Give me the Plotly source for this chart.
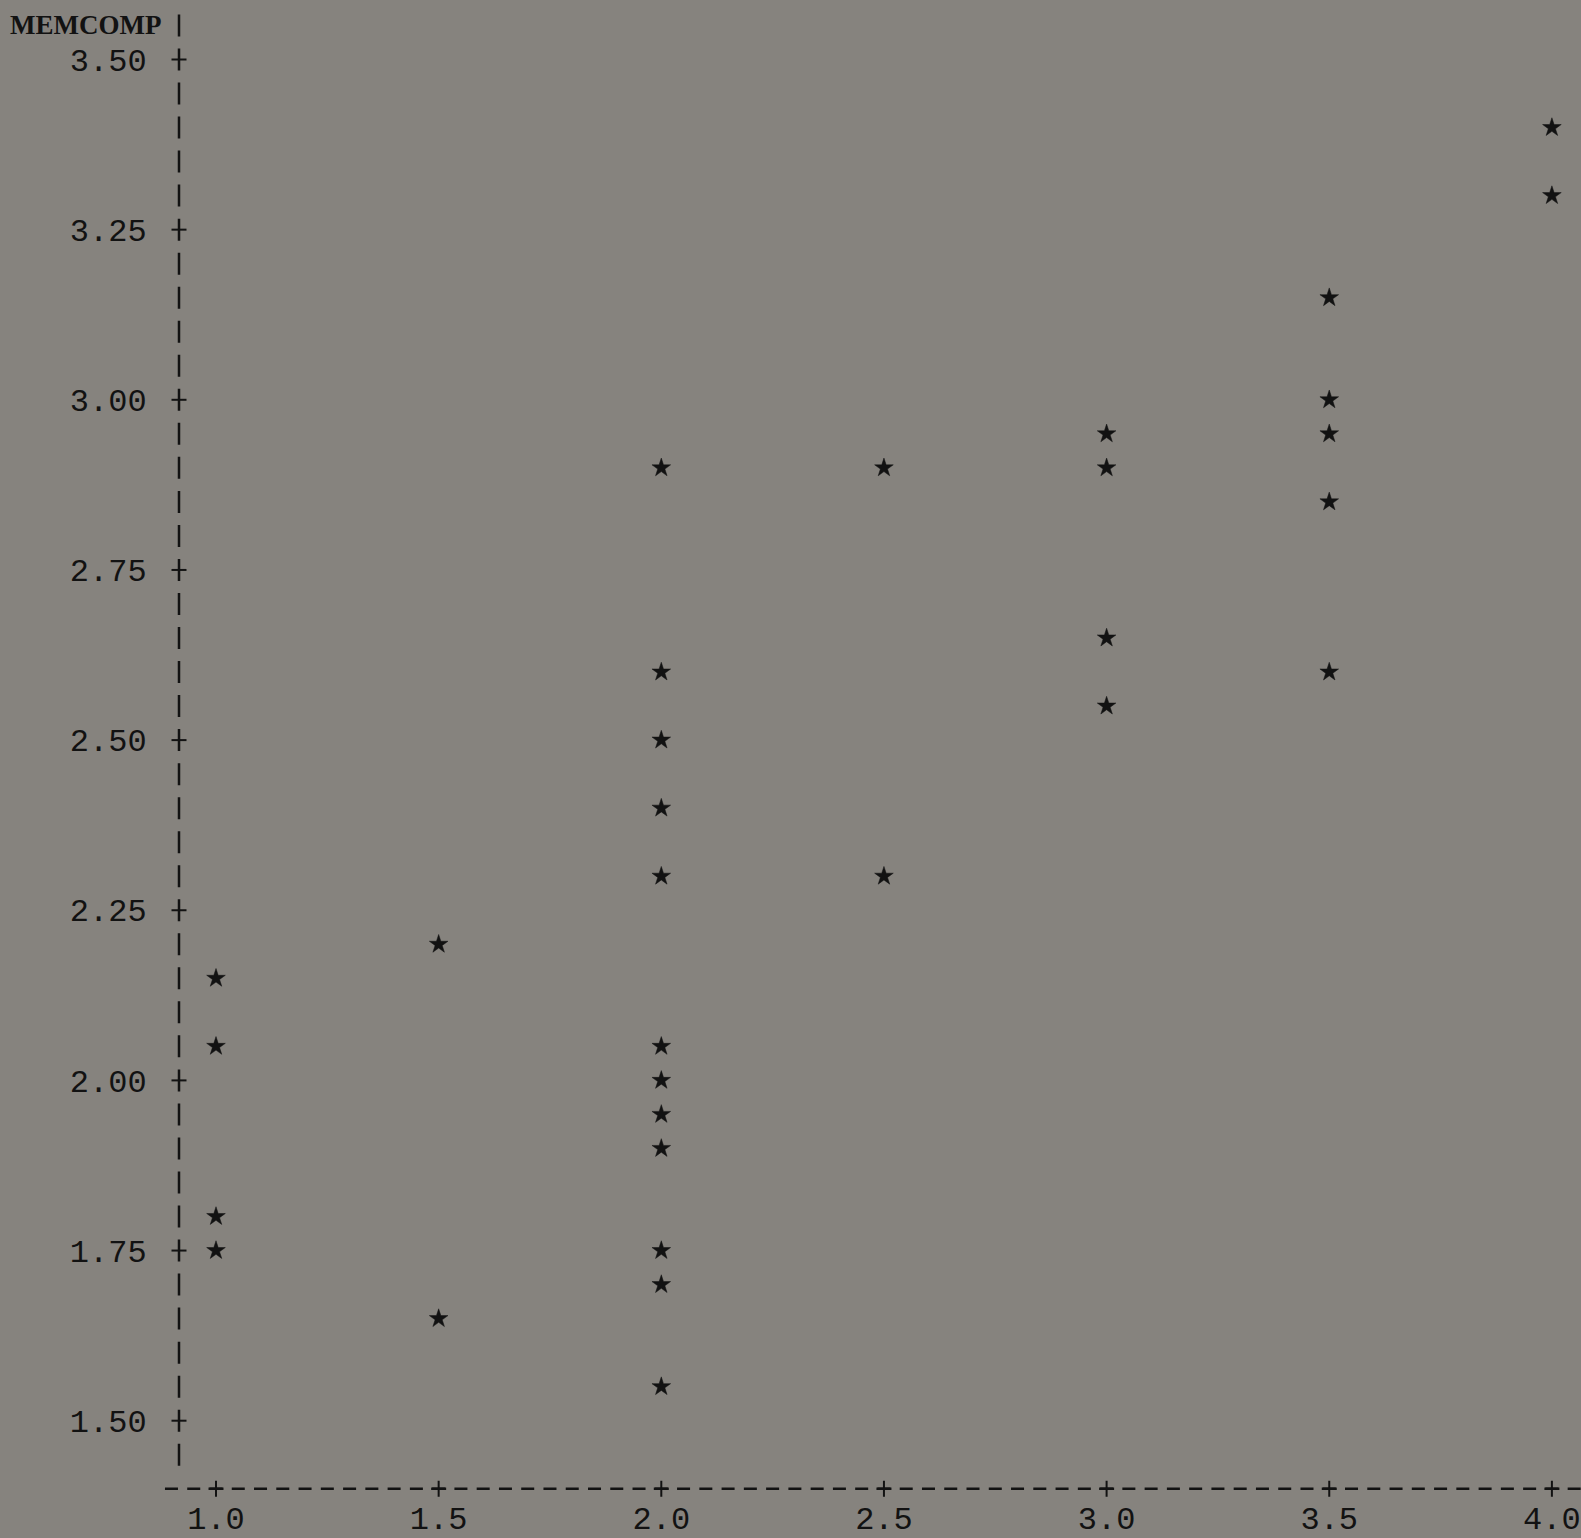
import plotly.graph_objects as go

# ---- data ----
x_vals = [1.0, 1.0, 1.0, 1.0,
          1.5, 1.5,
          2.0, 2.0, 2.0, 2.0, 2.0, 2.0, 2.0, 2.0, 2.0, 2.0, 2.0, 2.0,
          2.5, 2.5,
          3.0, 3.0, 3.0, 3.0,
          3.5, 3.5, 3.5, 3.5, 3.5,
          4.0, 4.0]
y_vals = [2.15, 2.05, 1.80, 1.75,
          2.20, 1.65,
          2.90, 2.60, 2.50, 2.40, 2.30, 2.05, 2.00, 1.95, 1.90, 1.75, 1.70, 1.55,
          2.90, 2.30,
          2.95, 2.90, 2.65, 2.55,
          3.15, 3.00, 2.95, 2.85, 2.60,
          3.40, 3.30]

x_ticks = [1.0, 1.5, 2.0, 2.5, 3.0, 3.5, 4.0]
x_tick_labels = ["1.0", "1.5", "2.0", "2.5", "3.0", "3.5", "4.0"]
y_ticks = [1.50, 1.75, 2.00, 2.25, 2.50, 2.75, 3.00, 3.25, 3.50]
y_tick_labels = ["1.50", "1.75", "2.00", "2.25", "2.50", "2.75", "3.00", "3.25", "3.50"]
y_label = "MEMCOMP"

# ---- layout geometry ----
W, H = 1581, 1538
ML, MB = 155, 40
PXX = 445.3      # pixels per x unit
PXY = 680.6      # pixels per y unit
X0PX = 216       # pixel column of x = 1.0
x_range = [1.0 - (X0PX - ML) / PXX, 1.0 + (W - X0PX) / PXX]
y_range = [3.50 - (H - MB - 59.5) / PXY, 3.50 + 59.5 / PXY]

BG = "#86837e"
INK = "#121212"
MONO = "Liberation Mono, DejaVu Sans Mono, monospace"

axis_x = 1.0 - (X0PX - 179) / PXX      # column of the vertical text axis
axis_y = 1.40                           # row of the horizontal text axis

fig = go.Figure()
fig.add_trace(go.Scatter(
    x=x_vals, y=y_vals, mode="markers",
    marker=dict(symbol="star", size=14, color=INK, line=dict(width=0.5, color=INK)),
    hoverinfo="x+y", showlegend=False,
))

shapes = []
# vertical axis drawn as a column of '|' characters (one per 0.05 row)
hb = 11 / PXY
shapes.append(dict(type="line", xref="x", yref="y",
                   x0=axis_x, x1=axis_x, y0=3.55 + hb, y1=1.45 - hb,
                   line=dict(color=INK, width=2.5, dash="22px,12.03px")))
# horizontal axis drawn as a row of '-' characters (one per 0.05 column)
hd = 6.5 / PXX
shapes.append(dict(type="line", xref="x", yref="y",
                   x0=x_ticks[0] - 0.10 - hd, x1=x_ticks[-1] + 0.05 + hd,
                   y0=axis_y, y1=axis_y,
                   line=dict(color=INK, width=2.5, dash="13px,9.265px")))
# '+' crossings on the y axis
for v in y_ticks:
    shapes.append(dict(type="line", xref="x", yref="y",
                       x0=axis_x - 7.5 / PXX, x1=axis_x + 7.5 / PXX, y0=v, y1=v,
                       line=dict(color=INK, width=2)))
    shapes.append(dict(type="line", xref="x", yref="y",
                       x0=axis_x, x1=axis_x, y0=v - 8 / PXY, y1=v + 8 / PXY,
                       line=dict(color=INK, width=2)))
# '+' crossings on the x axis
for v in x_ticks:
    shapes.append(dict(type="line", xref="x", yref="y",
                       x0=v, x1=v, y0=axis_y - 8 / PXY, y1=axis_y + 8 / PXY,
                       line=dict(color=INK, width=2)))
    shapes.append(dict(type="line", xref="x", yref="y",
                       x0=v - 7.5 / PXX, x1=v + 7.5 / PXX, y0=axis_y, y1=axis_y,
                       line=dict(color=INK, width=2.5)))

annotations = [dict(
    text="<b>" + y_label + "</b>", xref="paper", yref="y",
    x=(8 - ML) / (W - ML), y=3.55, xanchor="left", yanchor="middle",
    showarrow=False,
    font=dict(family="Liberation Serif, DejaVu Serif, serif", size=27, color=INK),
)]

fig.update_layout(
    width=W, height=H,
    margin=dict(l=ML, r=0, t=0, b=MB, pad=0, autoexpand=False),
    paper_bgcolor=BG, plot_bgcolor=BG,
    shapes=shapes, annotations=annotations,
    showlegend=False,
    xaxis=dict(range=x_range, tickvals=x_ticks, ticktext=x_tick_labels,
               showgrid=False, zeroline=False, showline=False, automargin=False,
               ticks="", ticklabelstandoff=-2, ticklabeloverflow="allow",
               tickfont=dict(family=MONO, size=32, color=INK), fixedrange=True),
    yaxis=dict(range=y_range, tickvals=y_ticks, ticktext=y_tick_labels,
               showgrid=False, zeroline=False, showline=False, automargin=False,
               ticks="outside", ticklen=1, tickcolor="rgba(0,0,0,0)",
               ticklabeloverflow="allow",
               tickfont=dict(family=MONO, size=32, color=INK), fixedrange=True),
)

fig.write_html("out.html", config={"displayModeBar": False},
               post_script="document.body.style.margin='0';document.body.style.overflow='hidden';")
